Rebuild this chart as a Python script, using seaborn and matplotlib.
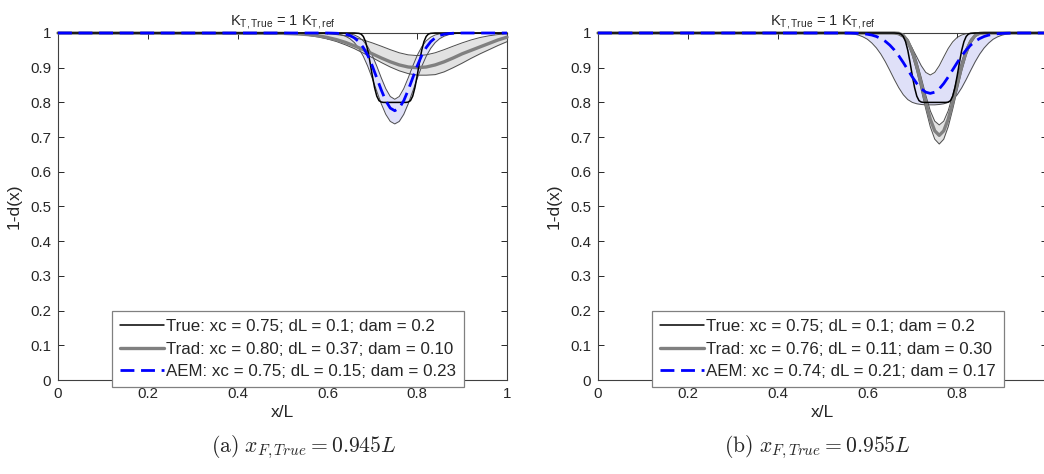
import numpy as np
import pandas as pd
import matplotlib
matplotlib.use("Agg")
import matplotlib.pyplot as plt
import seaborn as sns

# ---------------- data ----------------
true_x = [0.0, 0.66, 0.67, 0.675, 0.68, 0.685, 0.69, 0.695, 0.70, 0.705, 0.71, 0.715, 0.72,
          0.725, 0.775, 0.78, 0.785, 0.79, 0.795, 0.80, 0.805, 0.81, 0.815, 0.82, 0.825,
          0.83, 0.84, 1.0]
true_y = [1.0, 1.0, 0.999, 0.997, 0.99, 0.975, 0.95, 0.915, 0.877, 0.843, 0.818, 0.805, 0.801,
          0.80, 0.80, 0.801, 0.805, 0.818, 0.843, 0.877, 0.915, 0.95, 0.975, 0.99, 0.997,
          0.999, 1.0, 1.0]

# panel (a) - Traditional
a_trad_x = [0.0, 0.50, 0.52, 0.54, 0.56, 0.58, 0.60, 0.62, 0.64, 0.66, 0.68, 0.70, 0.72, 0.74,
            0.76, 0.78, 0.80, 0.82, 0.84, 0.86, 0.88, 0.90, 0.92, 0.94, 0.96, 0.98, 1.00]
a_trad_y = [1.0, 0.999, 0.998, 0.997, 0.995, 0.992, 0.987, 0.981, 0.973, 0.963, 0.952, 0.940,
            0.928, 0.917, 0.908, 0.902, 0.900, 0.902, 0.908, 0.917, 0.928, 0.940, 0.950,
            0.960, 0.970, 0.980, 0.988]
a_trad_hi = [1.0, 1.0, 1.0, 0.9998, 0.9994, 0.9988, 0.9976, 0.9955, 0.992, 0.987, 0.980,
             0.9715, 0.962, 0.952, 0.943, 0.937, 0.935, 0.937, 0.943, 0.952, 0.962, 0.9715,
             0.980, 0.987, 0.992, 0.9955, 0.9976]
a_trad_lo = [1.0, 0.9983, 0.997, 0.9952, 0.9924, 0.9884, 0.9828, 0.9755, 0.966, 0.955, 0.942,
             0.929, 0.915, 0.902, 0.891, 0.883, 0.8785, 0.8785, 0.880, 0.888, 0.900, 0.913,
             0.927, 0.940, 0.952, 0.964, 0.975]

# panel (a) - AEM
a_aem_x = [0.0, 0.60, 0.61, 0.62, 0.63, 0.64, 0.65, 0.66, 0.67, 0.68, 0.69, 0.70, 0.71, 0.72,
           0.73, 0.74, 0.75, 0.76, 0.77, 0.78, 0.79, 0.80, 0.81, 0.82, 0.83, 0.84, 0.85,
           0.86, 0.87, 0.88, 0.89, 0.90, 1.0]
a_aem_y = [1.0, 1.0, 0.9997, 0.9993, 0.9984, 0.9965, 0.993, 0.986, 0.975, 0.958, 0.935, 0.905,
           0.8705, 0.8356, 0.8047, 0.7836, 0.776, 0.7836, 0.8047, 0.8356, 0.8705, 0.905,
           0.935, 0.958, 0.975, 0.986, 0.993, 0.9965, 0.9984, 0.9993, 0.9997, 1.0, 1.0]
a_aem_hi = [1.0, 1.0, 1.0, 1.0, 1.0, 0.999, 0.9975, 0.9943, 0.988, 0.9773, 0.960, 0.9354,
            0.9045, 0.8707, 0.8396, 0.817, 0.809, 0.817, 0.8396, 0.8707, 0.9045, 0.9354,
            0.960, 0.9773, 0.988, 0.9943, 0.9975, 0.999, 1.0, 1.0, 1.0, 1.0, 1.0]
a_aem_lo = [1.0, 0.9995, 0.9989, 0.9976, 0.9952, 0.9909, 0.9837, 0.9725, 0.9557, 0.9327,
            0.9036, 0.869, 0.832, 0.796, 0.7655, 0.7452, 0.738, 0.7452, 0.7655, 0.796, 0.832,
            0.869, 0.9036, 0.9327, 0.9557, 0.9725, 0.9837, 0.9909, 0.9952, 0.9976, 0.9989,
            0.9995, 1.0]

# panel (b) - Traditional
b_trad_x = [0.0, 0.66, 0.67, 0.68, 0.69, 0.70, 0.71, 0.72, 0.73, 0.74, 0.75, 0.76, 0.77, 0.78,
            0.79, 0.80, 0.81, 0.82, 0.83, 0.84, 0.85, 0.86, 1.0]
b_trad_y = [1.0, 1.0, 0.999, 0.993, 0.976, 0.946, 0.904, 0.853, 0.800, 0.752, 0.718, 0.705,
            0.718, 0.752, 0.800, 0.853, 0.904, 0.946, 0.976, 0.993, 0.999, 1.0, 1.0]
b_trad_lo = [1.0, 1.0, 0.998, 0.989, 0.969, 0.935, 0.890, 0.836, 0.781, 0.730, 0.694, 0.680,
             0.694, 0.730, 0.781, 0.836, 0.890, 0.935, 0.969, 0.989, 0.998, 1.0, 1.0]
b_trad_hi = [1.0, 1.0, 1.0, 0.995, 0.982, 0.956, 0.918, 0.871, 0.821, 0.776, 0.746, 0.735,
             0.746, 0.776, 0.821, 0.871, 0.918, 0.956, 0.982, 0.995, 1.0, 1.0, 1.0]

# panel (b) - AEM
b_aem_x = [0.0, 0.54, 0.55, 0.56, 0.57, 0.58, 0.59, 0.60, 0.61, 0.62, 0.63, 0.64, 0.65, 0.66,
           0.67, 0.68, 0.69, 0.70, 0.71, 0.72, 0.73, 0.74, 0.75, 0.76, 0.77, 0.78, 0.79, 0.80,
           0.81, 0.82, 0.83, 0.84, 0.85, 0.86, 0.87, 0.88, 0.89, 0.90, 0.91, 0.92, 0.93, 0.94,
           1.0]
b_aem_y = [1.0, 1.0, 0.9999, 0.9997, 0.9994, 0.9989, 0.998, 0.9964, 0.994, 0.990, 0.984, 0.976,
           0.965, 0.951, 0.934, 0.9147, 0.894, 0.8733, 0.8544, 0.839, 0.8295, 0.826, 0.8295,
           0.839, 0.8544, 0.8733, 0.894, 0.9147, 0.934, 0.951, 0.965, 0.976, 0.984, 0.990,
           0.994, 0.9964, 0.998, 0.9989, 0.9994, 0.9997, 0.9999, 1.0, 1.0]
b_aem_hi = [1.0, 1.0, 1.0, 1.0, 1.0, 1.0, 1.0, 1.0, 1.0, 1.0, 1.0, 1.0,
            0.9992, 0.9978, 0.9943, 0.9873, 0.9746, 0.9555, 0.931, 0.9057, 0.8864,
            0.879, 0.8864, 0.9057, 0.931, 0.9555, 0.9746, 0.9873, 0.9943, 0.9978, 0.9992,
            1.0, 1.0, 1.0, 1.0, 1.0, 1.0, 1.0, 1.0, 1.0, 1.0, 1.0, 1.0]
b_aem_lo = [1.0, 1.0, 1.0, 0.999, 0.997, 0.994, 0.989, 0.982, 0.971, 0.957, 0.939, 0.917, 0.892,
            0.866, 0.842, 0.822, 0.808, 0.800, 0.796, 0.794, 0.793, 0.793, 0.793, 0.794, 0.796,
            0.800, 0.808, 0.822, 0.842, 0.866, 0.892, 0.917, 0.939, 0.957, 0.971, 0.982,
            0.989, 0.994, 0.997, 0.999, 1.0, 1.0, 1.0]

legend_a = ["True: xc = 0.75; dL = 0.1; dam = 0.2",
            "Trad: xc = 0.80; dL = 0.37; dam = 0.10",
            "AEM: xc = 0.75; dL = 0.15; dam = 0.23"]
legend_b = ["True: xc = 0.75; dL = 0.1; dam = 0.2",
            "Trad: xc = 0.76; dL = 0.11; dam = 0.30",
            "AEM: xc = 0.74; dL = 0.21; dam = 0.17"]
captions = [r"$\mathrm{(a)}\ x_{F,True} = 0.945L$", r"$\mathrm{(b)}\ x_{F,True} = 0.955L$"]
xticks = [0, 0.2, 0.4, 0.6, 0.8, 1.0]
xticklabels = ["0", "0.2", "0.4", "0.6", "0.8", "1"]
yticks = [0, 0.1, 0.2, 0.3, 0.4, 0.5, 0.6, 0.7, 0.8, 0.9, 1.0]
yticklabels = ["0", "0.1", "0.2", "0.3", "0.4", "0.5", "0.6", "0.7", "0.8", "0.9", "1"]

# ---------------- style ----------------
sns.set_style("ticks")
plt.rcParams["font.family"] = ["Liberation Sans", "DejaVu Sans"]
plt.rcParams["mathtext.fontset"] = "custom"
plt.rcParams["mathtext.rm"] = "Liberation Sans"
plt.rcParams["mathtext.it"] = "Liberation Sans:italic"

fig = plt.figure(figsize=(10.44, 4.74), dpi=100)
ax_a = fig.add_axes([58 / 1044, 1 - 380 / 474, 449 / 1044, 347 / 474])
ax_b = fig.add_axes([598 / 1044, 1 - 380 / 474, 449 / 1044, 347 / 474])

TRUE_C = "black"
TRAD_C = "#808080"
AEM_C = "#0000ff"
TRAD_FILL = "#e2e2e2"
AEM_FILL = "#dfe0f8"
EDGE_C = "#4d4d4d"


def panel(ax, trad, aem, labels, caption, cap_x):
    tx, ty, tlo, thi = trad
    ax_, ay, alo, ahi = aem
    # bands
    ax.fill_between(tx, tlo, thi, color=TRAD_FILL, lw=0, clip_on=False, zorder=1)
    ax.fill_between(ax_, alo, ahi, color=AEM_FILL, lw=0, clip_on=False, zorder=1)
    for xs, ys in [(tx, tlo), (tx, thi), (ax_, alo), (ax_, ahi)]:
        sns.lineplot(x=xs, y=ys, ax=ax, color=EDGE_C, lw=0.7, estimator=None, sort=False,
                     zorder=2)
    # main lines
    sns.lineplot(x=true_x, y=true_y, ax=ax, color=TRUE_C, lw=1.1, estimator=None, sort=False,
                 zorder=4, label=labels[0])
    sns.lineplot(x=tx, y=ty, ax=ax, color=TRAD_C, lw=2.4, estimator=None, sort=False,
                 zorder=3, label=labels[1])
    sns.lineplot(x=ax_, y=ay, ax=ax, color=AEM_C, lw=2.0, estimator=None, sort=False,
                 zorder=5, label=labels[2])
    ax.lines[-1].set_dashes((5, 2.4))
    for ln in ax.lines:
        ln.set_clip_on(False)

    ax.set_xlim(0, 1)
    ax.set_ylim(0, 1)
    ax.set_xticks(xticks)
    ax.set_xticklabels(xticklabels)
    ax.set_yticks(yticks)
    ax.set_yticklabels(yticklabels)
    ax.tick_params(direction="in", length=4, width=0.7, top=True, right=True,
                   labelsize=10.8, colors="#262626", pad=5)
    for s in ax.spines.values():
        s.set_visible(True)
        s.set_color("#404040")
        s.set_linewidth(0.8)
    ax.set_xlabel("x/L", fontsize=12.5, labelpad=3)
    ax.set_ylabel("1-d(x)", fontsize=12.5, labelpad=6)
    ax.set_title(r"K$_\mathrm{T,True}$ = 1 K$_\mathrm{T,ref}$", fontsize=10.5, pad=6)

    handles, labs = ax.get_legend_handles_labels()
    leg = ax.legend(handles, labs, loc="lower left", bbox_to_anchor=(0.12, -0.02),
                    fontsize=12.2, frameon=True, fancybox=False, framealpha=1,
                    edgecolor="#808080", handlelength=2.65, handletextpad=0.12,
                    labelspacing=0.46, borderpad=0.45, borderaxespad=0)
    leg.get_frame().set_linewidth(0.9)
    leg.set_zorder(10)

    fig.text(cap_x, 1 - 447 / 474, caption, ha="center", va="center", fontsize=15.6,
             math_fontfamily="cm")


panel(ax_a, (a_trad_x, a_trad_y, a_trad_lo, a_trad_hi), (a_aem_x, a_aem_y, a_aem_lo, a_aem_hi),
      legend_a, captions[0], 304 / 1044)
panel(ax_b, (b_trad_x, b_trad_y, b_trad_lo, b_trad_hi), (b_aem_x, b_aem_y, b_aem_lo, b_aem_hi),
      legend_b, captions[1], 817 / 1044)

fig.savefig("out.png", dpi=100)
